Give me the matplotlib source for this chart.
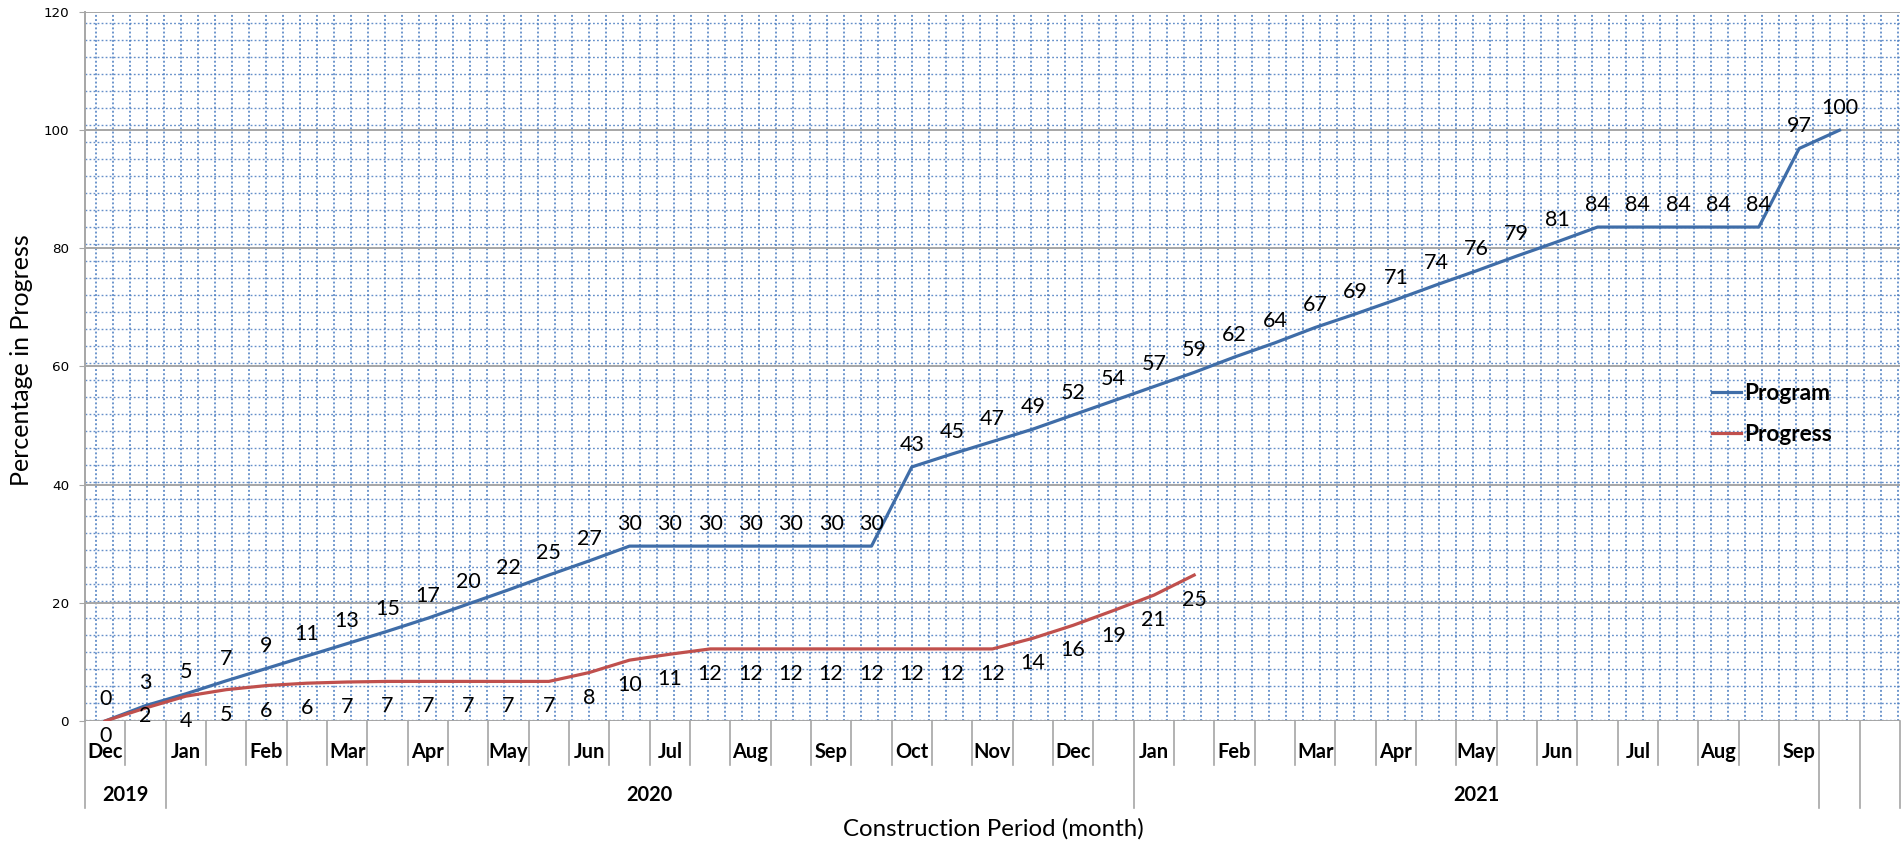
import numpy as np
import matplotlib.pyplot as plt
from matplotlib.transforms import blended_transform_factory

# 数据
program = [0, 2.6, 4.6, 6.8, 8.9, 11.0, 13.1, 15.2, 17.4, 19.8, 22.2, 24.7, 27.1, 29.6,
           29.6, 29.6, 29.6, 29.6, 29.6, 29.6,
           43.0, 45.2, 47.3, 49.4, 51.8, 54.2, 56.6, 59.0, 61.6, 64.0, 66.6, 68.9, 71.3,
           73.8, 76.2, 78.7, 81.1,
           83.6, 83.6, 83.6, 83.6, 83.6, 96.9, 100.0]
progress = [0, 2.2, 4.2, 5.3, 6.0, 6.4, 6.6, 6.7, 6.7, 6.7, 6.7, 6.7, 8.2, 10.3, 11.3,
            12.2, 12.2, 12.2, 12.2, 12.2, 12.2, 12.2, 12.2, 14.0, 16.2, 18.7, 21.3, 24.7]
months = ['Dec', 'Jan', 'Feb', 'Mar', 'Apr', 'May', 'Jun', 'Jul', 'Aug', 'Sep', 'Oct',
          'Nov', 'Dec', 'Jan', 'Feb', 'Mar', 'Apr', 'May', 'Jun', 'Jul', 'Aug', 'Sep']
years = ['2019', '2020', '2021', '', '']
year_start = [0, 2, 26, 43, 44]
year_end = [2, 26, 43, 44, 45]
n_cat = 45

blue = '#3F6DA8'
red = '#C0504D'
gray = '#A6A6A6'
dot = '#4A7CC0'

fig = plt.figure(figsize=(19.04, 8.46), dpi=100)
ax = fig.add_axes([85/1904, 1-721/846, 1815/1904, 709/846])
ax.set_xlim(-0.5, n_cat-0.5)
ax.set_ylim(0, 120)

# 背景点状网格 (图案填充, 17px 间距)
px_y = 709/120
px_x = 1815/n_cat
for yy in np.arange(120-11.3/px_y, 0, -17/px_y):
    ax.axhline(yy, color=dot, lw=1.0, ls=(0, (1.3, 1.6)), zorder=0, alpha=0.85)
for xx in np.arange(-0.5+11/px_x, n_cat-0.5, 17/px_x):
    ax.axvline(xx, color=dot, lw=1.25, ls=(0, (1.1, 1.3)), zorder=0, alpha=0.9)

# 主网格
for yy in range(0, 121, 20):
    ax.axhline(yy, color=gray, lw=1.4, zorder=1)

for s in ['top', 'right', 'bottom']:
    ax.spines[s].set_visible(False)
ax.spines['left'].set_color(gray)
ax.spines['left'].set_linewidth(1.4)

ax.set_yticks(range(0, 121, 20))
ax.tick_params(axis='y', length=4.5, color=gray, pad=7, labelsize=9.7)
for t in ax.get_yticklabels():
    t.set_family('DejaVu Sans')
ax.set_xticks([])

x1 = np.arange(len(program))
x2 = np.arange(len(progress))
ax.plot(x1, program, color=blue, lw=2.3, label='Program', zorder=3)
ax.plot(x2, progress, color=red, lw=2.3, label='Progress', zorder=3)

for x, v in zip(x1, program):
    ax.annotate(f'{v:.0f}', (x, v), xytext=(0, 16), textcoords='offset points',
                ha='center', va='center', fontsize=15.5, family='Lato', zorder=4)
for x, v in zip(x2, progress):
    off = -18
    if x == 0:
        off = -10.5
    elif x == 1:
        off = -5.5
    ax.annotate(f'{v:.0f}', (x, v), xytext=(0, off), textcoords='offset points',
                ha='center', va='center', fontsize=15.5, family='Lato', zorder=4)

# 多级分类轴
tr = blended_transform_factory(ax.transData, ax.transAxes)
y_m = -44/709
y_y = -87/709
year_edges = set(year_start) | set(year_end)
for b in range(n_cat+1):
    yb = y_y if b in year_edges else y_m
    ax.plot([b-0.5, b-0.5], [0, yb], color=gray, lw=1.2, transform=tr, clip_on=False)
for i, m in enumerate(months):
    ax.text(2*i, -31/709, m, transform=tr, ha='center', va='center',
            fontsize=14.4, fontweight='bold', family='Lato')
for name, a, b in zip(years, year_start, year_end):
    ax.text((a+b-1)/2, -74/709, name, transform=tr, ha='center', va='center',
            fontsize=14.4, fontweight='bold', family='Lato')

fig.text(993/1904, 1-829/846, 'Construction Period (month)', ha='center', va='center',
         fontsize=17.3, family='Lato')
fig.text(22/1904, 1-360/846, 'Percentage in Progress', ha='center', va='center',
         rotation=90, fontsize=18, family='Lato')

leg = ax.legend(loc='center left', bbox_to_anchor=((1712-85)/1815, (721-414)/709),
                frameon=False, borderaxespad=0, borderpad=0, handlelength=1.3,
                handletextpad=0.12, labelspacing=0.92,
                prop={'family': 'Lato', 'weight': 'bold', 'size': 16.3})

fig.savefig('out.png', dpi=100)
